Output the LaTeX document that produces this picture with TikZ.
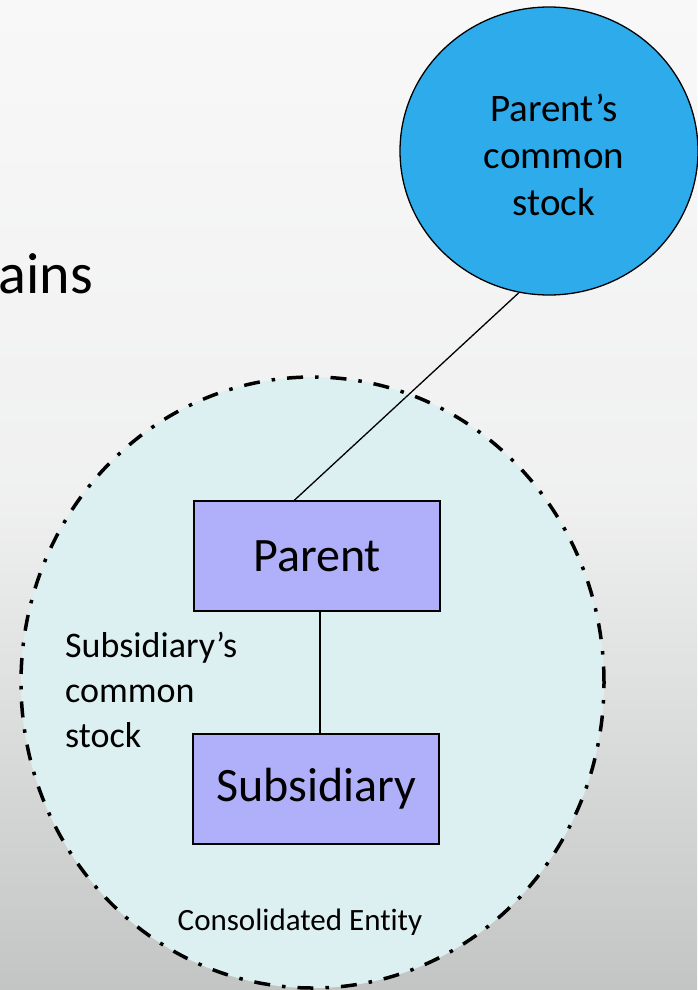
\documentclass[tikz,border=0pt]{standalone}
\usepackage{fontspec}
\setmainfont{Carlito}[Ligatures={NoCommon}]
\usetikzlibrary{shapes.geometric,calc}
\definecolor{bgtop}{HTML}{F8F8F8}
\definecolor{bgbot}{HTML}{C3C5C5}
\definecolor{entfill}{HTML}{DDF0F1}
\definecolor{boxfill}{HTML}{B0B0FA}
\definecolor{stockblue}{HTML}{2EABEA}
\tikzset{
  entity/.style={ellipse, draw=black, fill=entfill, line width=3.5pt,
    dash pattern=on 16pt off 12pt on 3.5pt off 12pt, inner sep=0pt},
  stock/.style={ellipse, draw=black, fill=stockblue, line width=1.3pt, inner sep=0pt,
    align=center, font=\fontsize{38}{47}\selectfont},
  company/.style={rectangle, draw=black, fill=boxfill, line width=1.4pt,
    minimum width=246pt, minimum height=110pt, inner sep=0pt,
    font=\fontsize{48}{56}\selectfont},
  link/.style={draw=black, line width=1.3pt},
  plain/.style={inner sep=0pt}
}
\begin{document}
\begin{tikzpicture}[x=1pt,y=-1pt]
\useasboundingbox (0,0) rectangle (697,990);
\shade[top color=bgtop, bottom color=bgbot, middle color=bgtop!85!bgbot] (0,0) rectangle (697,990);
\node[plain, anchor=base east, font=\fontsize{58}{66}\selectfont] (ains) at (93,293) {ains};
\node[entity, minimum width=583pt, minimum height=611pt] (ent) at (312.5,682.5) {};
\node[stock, minimum width=298pt, minimum height=288pt] (circ) at (549,151) {};
\node[plain, align=center, font=\fontsize{39}{47}\selectfont] (ctext) at (554,155) {Parent’s\\common\\stock};
\node[company] (par) at (317,556) {Parent};
\node[company] (sub) at (316,789) {Subsidiary};
\draw[link] ($(par.north west)+(101,0)$) -- (circ.-102);
\draw[link] ($(par.south)+(3,0)$) -- ($(sub.north)+(4,0)$);
\node[plain, anchor=north west, align=left, font=\fontsize{36}{45}\selectfont] (substock) at (65,632) {Subsidiary’s\\common\\stock};
\node[plain, anchor=base, font=\fontsize{31}{36}\selectfont] (cons) at (300,930) {Consolidated Entity};
\end{tikzpicture}
\end{document}
